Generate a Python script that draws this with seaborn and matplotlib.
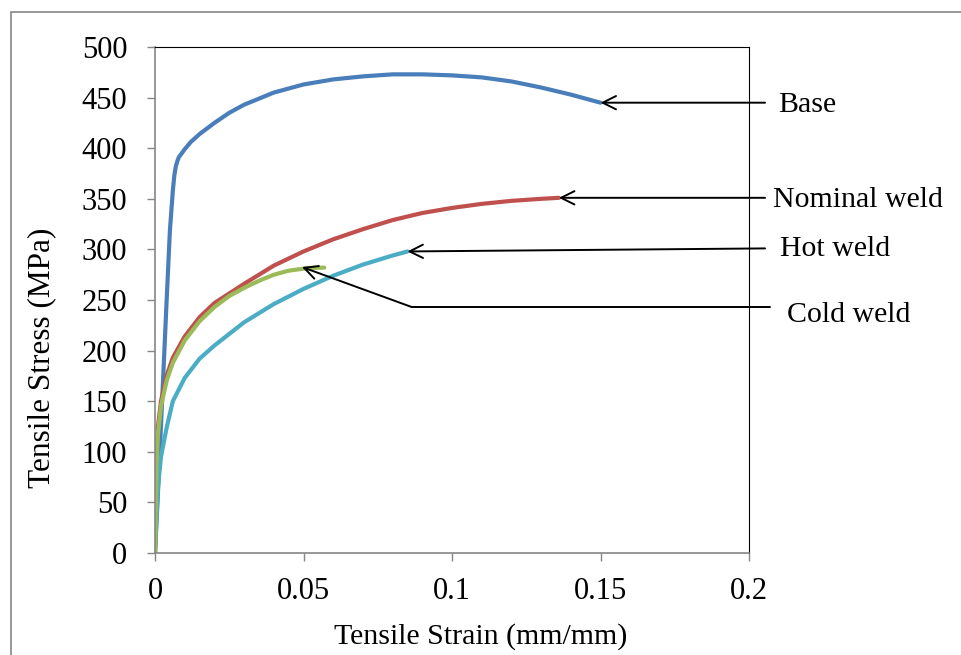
import matplotlib
matplotlib.use("Agg")
import matplotlib.pyplot as plt
import seaborn as sns
from matplotlib.patches import Rectangle

# Data (strain in mm/mm, stress in MPa)
base_strain = [0, 0.001, 0.002, 0.003, 0.004, 0.005, 0.006, 0.0065, 0.007, 0.0075, 0.008,
               0.009, 0.01, 0.012, 0.015, 0.02, 0.025, 0.03, 0.04, 0.05, 0.06, 0.07,
               0.08, 0.09, 0.1, 0.11, 0.12, 0.13, 0.14, 0.15]
base_stress = [0, 60, 125, 190, 255, 318, 358, 373, 382, 387, 391,
               395, 399, 406, 414, 425, 435, 443, 455, 463, 468, 471,
               473, 473, 472, 470, 466, 460, 453, 445]

nominal_strain = [0, 0.0005, 0.001, 0.002, 0.004, 0.006, 0.01, 0.015, 0.02, 0.03, 0.04,
                  0.05, 0.06, 0.07, 0.08, 0.09, 0.1, 0.11, 0.12, 0.13, 0.136]
nominal_stress = [0, 90, 125, 150, 176, 193, 214, 233, 247, 266, 284,
                  298, 310, 320, 329, 336, 341, 345, 348, 350, 351]

cold_strain = [0, 0.0005, 0.001, 0.002, 0.004, 0.006, 0.01, 0.015, 0.02, 0.025, 0.03,
               0.035, 0.04, 0.045, 0.05, 0.055, 0.057]
cold_stress = [0, 85, 118, 145, 171, 188, 210, 229, 243, 254, 262,
               269, 275, 279, 281, 282, 282]

hot_strain = [0, 0.0005, 0.001, 0.002, 0.004, 0.006, 0.01, 0.015, 0.02, 0.03, 0.04,
              0.05, 0.06, 0.07, 0.08, 0.085]
hot_stress = [0, 35, 65, 95, 125, 150, 173, 192, 205, 228, 246,
              261, 274, 285, 294, 298]

sns.set_style("white")
plt.rcParams["font.family"] = ["Liberation Serif", "DejaVu Serif"]
plt.rcParams["text.color"] = "black"
plt.rcParams["axes.labelcolor"] = "black"
plt.rcParams["xtick.color"] = "black"
plt.rcParams["ytick.color"] = "black"

fig = plt.figure(figsize=(9.61, 6.55), dpi=100)
ax = fig.add_axes([0.1613, 0.1557, 0.6181, 0.7725])

sns.lineplot(x=base_strain, y=base_stress, color="#4A7EBB", linewidth=3, estimator=None, ax=ax)
sns.lineplot(x=nominal_strain, y=nominal_stress, color="#C0504D", linewidth=3, estimator=None, ax=ax)
sns.lineplot(x=hot_strain, y=hot_stress, color="#4BACC6", linewidth=3, estimator=None, ax=ax)
sns.lineplot(x=cold_strain, y=cold_stress, color="#9BBB59", linewidth=3, estimator=None, ax=ax)

ax.set_xlim(0, 0.2)
ax.set_ylim(0, 500)
ax.set_xticks([0, 0.05, 0.1, 0.15, 0.2])
ax.set_xticklabels(["0", "0.05", "0.1", "0.15", "0.2"])
ax.set_yticks(range(0, 501, 50))
ax.tick_params(axis="both", labelsize=22, direction="out", length=6, width=1,
               color="#868686", labelcolor="black", left=True, bottom=True)
ax.tick_params(axis="y", pad=14)
ax.tick_params(axis="x", pad=11)

ax.set_xlabel("Tensile Strain (mm/mm)", fontsize=21.5)
ax.set_ylabel("Tensile Stress (MPa)", fontsize=22.5)
ax.xaxis.label.set_va("center")
ax.yaxis.label.set_va("center")
ax.xaxis.set_label_coords(0.549, -0.165)
ax.yaxis.set_label_coords(-0.190, 0.385)

for side in ["left", "bottom"]:
    ax.spines[side].set_color("#868686")
    ax.spines[side].set_linewidth(1.2)
for side in ["top", "right"]:
    ax.spines[side].set_color("black")
    ax.spines[side].set_linewidth(0.8)

arrow = dict(arrowstyle="->", color="black", lw=1.4, mutation_scale=24,
             shrinkA=0, shrinkB=0)

# labels and arrows
ax.annotate("", xy=(base_strain[-1], base_stress[-1]), xytext=(0.2054, base_stress[-1]),
            arrowprops=arrow, annotation_clip=False)
ax.text(0.2098, 443, "Base", fontsize=21.5, va="center", ha="left", clip_on=False)

ax.annotate("", xy=(nominal_strain[-1], nominal_stress[-1]), xytext=(0.2054, 351),
            arrowprops=arrow, annotation_clip=False)
ax.text(0.2081, 349, "Nominal weld", fontsize=21.5, va="center", ha="left", clip_on=False)

ax.annotate("", xy=(hot_strain[-1], hot_stress[-1]), xytext=(0.2054, 301),
            arrowprops=arrow, annotation_clip=False)
ax.text(0.2104, 300, "Hot weld", fontsize=21.5, va="center", ha="left", clip_on=False)

ax.plot([0.0865, 0.2071], [243, 243], color="black", lw=1.4, clip_on=False)
ax.annotate("", xy=(0.0495, 282.6), xytext=(0.0865, 243),
            arrowprops=arrow, annotation_clip=False)
ax.text(0.2128, 235, "Cold weld", fontsize=21.5, va="center", ha="left", clip_on=False)

# outer frame of the figure
fig.patches.append(Rectangle((11 / 961, -0.1), 1.2, 1.1 - 12 / 655, transform=fig.transFigure,
                             fill=False, edgecolor="#868686", linewidth=1.2))

fig.savefig("out.png", dpi=100)
